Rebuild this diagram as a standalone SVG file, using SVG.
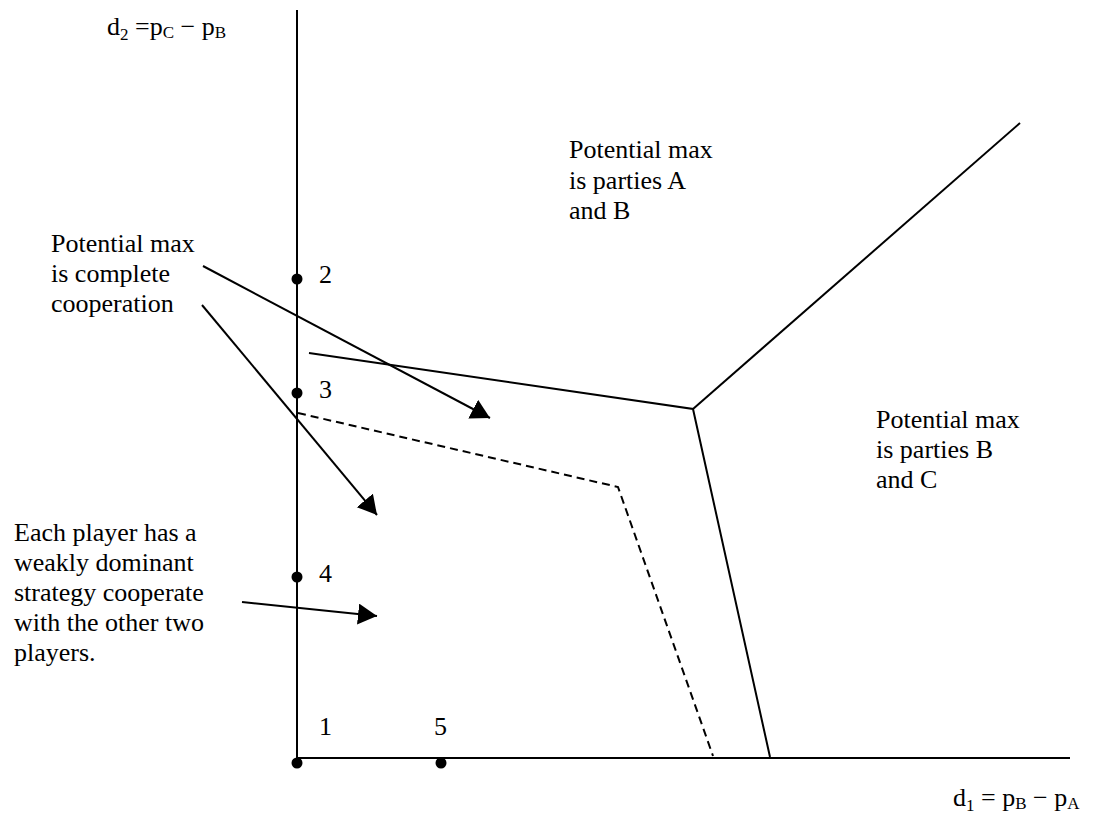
<svg xmlns="http://www.w3.org/2000/svg" width="1095" height="825" viewBox="0 0 1095 825">
<style>
.t{font-family:"Liberation Serif","Times New Roman",serif;font-size:26px;fill:#000}
.s{font-size:17px}
.ln{stroke:#000;stroke-width:2;fill:none}
.dash{stroke:#000;stroke-width:2;fill:none;stroke-dasharray:8,5}
.dot{fill:#000}
</style>
<defs>
<marker id="ah" markerUnits="userSpaceOnUse" markerWidth="22" markerHeight="22" refX="19" refY="10.5" orient="auto">
<path d="M0,0 L19,10.5 L0,21 z" fill="#000"/>
</marker>
</defs>
<rect width="1095" height="825" fill="#fff"/>
<g id="axes">
<line class="ln" x1="297" y1="10" x2="297" y2="763"/>
<line class="ln" x1="297" y1="758" x2="1070" y2="758"/>
</g>
<g id="boundaries">
<polyline class="ln" points="309,353 693,409 770,757"/>
<line class="ln" x1="693" y1="409" x2="1020" y2="123"/>
<polyline class="dash" points="298,413 618,487 713,756"/>
</g>
<g id="points">
<g id="p1"><circle class="dot" cx="297" cy="763" r="5.5"/><text class="t" x="319" y="735">1</text></g>
<g id="p2"><circle class="dot" cx="297" cy="279" r="5.5"/><text class="t" x="319" y="283">2</text></g>
<g id="p3"><circle class="dot" cx="297" cy="393" r="5.5"/><text class="t" x="319" y="398">3</text></g>
<g id="p4"><circle class="dot" cx="297" cy="577" r="5.5"/><text class="t" x="319" y="582">4</text></g>
<g id="p5"><circle class="dot" cx="441" cy="763" r="5.5"/><text class="t" x="434" y="735">5</text></g>
</g>
<g id="labels">
<text id="ylabel" class="t" x="107" y="35">d<tspan class="s" dy="5">2</tspan><tspan dy="-5"> =p</tspan><tspan class="s" dy="3">C</tspan><tspan dy="-3"> − p</tspan><tspan class="s" dy="3">B</tspan></text>
<text id="xlabel" class="t" x="953" y="806">d<tspan class="s" dy="5">1</tspan><tspan dy="-5"> = p</tspan><tspan class="s" dy="3">B</tspan><tspan dy="-3"> − p</tspan><tspan class="s" dy="3">A</tspan></text>
</g>
<g id="note-complete">
<text class="t"><tspan x="51" y="252">Potential max</tspan><tspan x="51" y="282">is complete</tspan><tspan x="51" y="312">cooperation</tspan></text>
</g>
<g id="note-dominant">
<text class="t"><tspan x="14" y="541">Each player has a</tspan><tspan x="14" y="571">weakly dominant</tspan><tspan x="14" y="601">strategy cooperate</tspan><tspan x="14" y="631">with the other two</tspan><tspan x="14" y="661">players.</tspan></text>
</g>
<g id="region-AB">
<text class="t"><tspan x="569" y="158">Potential max</tspan><tspan x="569" y="189">is parties A</tspan><tspan x="569" y="219">and B</tspan></text>
</g>
<g id="region-BC">
<text class="t"><tspan x="876" y="428">Potential max</tspan><tspan x="876" y="458">is parties B</tspan><tspan x="876" y="488">and C</tspan></text>
</g>
<g id="connectors">
<line class="ln" x1="203" y1="266" x2="490" y2="418" marker-end="url(#ah)"/>
<line class="ln" x1="202" y1="305" x2="377" y2="515" marker-end="url(#ah)"/>
<line class="ln" x1="242" y1="602" x2="377" y2="616" marker-end="url(#ah)"/>
</g>
</svg>
